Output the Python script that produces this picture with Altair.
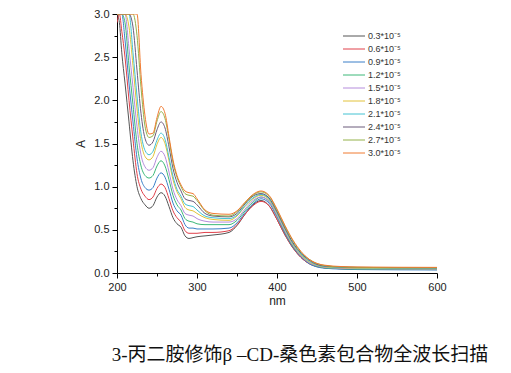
import altair as alt
import pandas as pd

wl = [200, 203, 206, 210, 215, 220, 225, 230, 235, 240, 245, 250, 255, 260, 265, 270, 275, 280, 285, 290,
      295, 300, 310, 320, 340, 350, 360, 370, 380, 390, 400, 410, 420, 430, 440, 450, 460, 480, 500, 600]

labels = ["0.3*10⁻⁵", "0.6*10⁻⁵", "0.9*10⁻⁵", "1.2*10⁻⁵", "1.5*10⁻⁵",
          "1.8*10⁻⁵", "2.1*10⁻⁵", "2.4*10⁻⁵", "2.7*10⁻⁵", "3.0*10⁻⁵"]
colors = ["#555555", "#e0404a", "#3a7fc8", "#3cb878", "#b58cdc",
          "#e2c23a", "#42c2d2", "#6a5a7a", "#94b24a", "#f07a30"]

s03 = [3.0, 2.9, 2.55, 2.2, 1.75, 1.3, 1.0, 0.86, 0.79, 0.75, 0.78, 0.88, 0.93, 0.89, 0.77, 0.64, 0.57, 0.53, 0.43, 0.40,
       0.41, 0.42, 0.43, 0.44, 0.47, 0.55, 0.68, 0.79, 0.84, 0.78, 0.62, 0.44, 0.29, 0.18, 0.11, 0.075, 0.06, 0.05, 0.045, 0.04]
s06 = [2.9, 3.0, 2.8, 2.5, 2.0, 1.55, 1.15, 0.97, 0.89, 0.85, 0.88, 0.98, 1.03, 0.99, 0.86, 0.72, 0.64, 0.59, 0.49, 0.46,
       0.46, 0.46, 0.47, 0.47, 0.49, 0.56, 0.68, 0.78, 0.83, 0.78, 0.62, 0.44, 0.29, 0.18, 0.11, 0.075, 0.06, 0.05, 0.045, 0.04]
s09 = [3.0, 3.0, 3.0, 2.7, 2.2, 1.75, 1.33, 1.09, 0.99, 0.96, 0.99, 1.10, 1.16, 1.11, 0.97, 0.81, 0.72, 0.67, 0.56, 0.52,
       0.52, 0.51, 0.51, 0.51, 0.52, 0.58, 0.70, 0.80, 0.86, 0.81, 0.65, 0.46, 0.30, 0.19, 0.11, 0.07, 0.055, 0.045, 0.04, 0.035]
s12 = [3.0, 3.0, 3.0, 2.9, 2.4, 1.95, 1.5, 1.24, 1.13, 1.10, 1.13, 1.24, 1.30, 1.24, 1.08, 0.90, 0.79, 0.73, 0.63, 0.60,
       0.59, 0.57, 0.56, 0.56, 0.56, 0.61, 0.72, 0.82, 0.88, 0.83, 0.66, 0.47, 0.31, 0.20, 0.12, 0.08, 0.06, 0.05, 0.045, 0.04]
s15 = [3.0, 3.0, 3.0, 3.0, 2.6, 2.15, 1.7, 1.37, 1.23, 1.19, 1.22, 1.34, 1.41, 1.35, 1.17, 0.97, 0.85, 0.78, 0.69, 0.67,
       0.66, 0.63, 0.60, 0.59, 0.59, 0.63, 0.74, 0.84, 0.88, 0.83, 0.67, 0.48, 0.32, 0.20, 0.12, 0.085, 0.065, 0.055, 0.05, 0.045]
s18 = [3.0, 3.0, 3.0, 3.0, 2.85, 2.4, 1.9, 1.52, 1.35, 1.31, 1.35, 1.49, 1.57, 1.50, 1.30, 1.08, 0.94, 0.86, 0.76, 0.73,
       0.72, 0.69, 0.64, 0.62, 0.61, 0.66, 0.77, 0.86, 0.90, 0.85, 0.69, 0.50, 0.33, 0.21, 0.13, 0.09, 0.07, 0.06, 0.055, 0.05]
s21 = [3.0, 3.0, 3.0, 3.0, 3.0, 2.55, 2.05, 1.62, 1.42, 1.37, 1.41, 1.54, 1.62, 1.55, 1.34, 1.12, 0.97, 0.89, 0.80, 0.78,
       0.77, 0.73, 0.66, 0.64, 0.63, 0.67, 0.78, 0.87, 0.91, 0.86, 0.70, 0.51, 0.34, 0.22, 0.14, 0.095, 0.075, 0.065, 0.06, 0.055]
s24 = [3.0, 3.0, 3.0, 3.0, 3.0, 2.85, 2.35, 1.85, 1.56, 1.48, 1.52, 1.66, 1.75, 1.68, 1.46, 1.21, 1.05, 0.95, 0.86, 0.84,
       0.83, 0.79, 0.69, 0.66, 0.65, 0.69, 0.80, 0.89, 0.92, 0.87, 0.71, 0.52, 0.35, 0.23, 0.15, 0.10, 0.08, 0.07, 0.065, 0.06]
s27 = [3.0, 3.0, 3.0, 3.0, 3.0, 3.0, 2.75, 2.15, 1.7, 1.57, 1.59, 1.76, 1.87, 1.79, 1.55, 1.28, 1.11, 1.00, 0.92, 0.90,
       0.89, 0.84, 0.72, 0.67, 0.66, 0.71, 0.81, 0.90, 0.94, 0.89, 0.73, 0.54, 0.37, 0.24, 0.16, 0.11, 0.085, 0.07, 0.065, 0.06]
s30 = [3.0, 3.0, 3.0, 3.0, 3.0, 3.0, 3.0, 2.3, 1.82, 1.61, 1.62, 1.80, 1.93, 1.85, 1.58, 1.31, 1.13, 1.02, 0.95, 0.93,
       0.92, 0.86, 0.73, 0.69, 0.68, 0.72, 0.82, 0.91, 0.95, 0.90, 0.74, 0.55, 0.38, 0.25, 0.16, 0.11, 0.09, 0.075, 0.07, 0.065]

series = [s03, s06, s09, s12, s15, s18, s21, s24, s27, s30]

rows = []
for lab, vals in zip(labels, series):
    for w, v in zip(wl, vals):
        rows.append({"nm": w, "A": v, "conc": lab})
df = pd.DataFrame(rows)

x_ticks = list(range(200, 601, 50))
y_ticks = [i * 0.25 for i in range(13)]

chart = alt.Chart(df).mark_line(strokeWidth=1, interpolate="monotone", clip=True).encode(
    x=alt.X("nm:Q", scale=alt.Scale(domain=[200, 600], nice=False, zero=False),
            axis=alt.Axis(values=x_ticks, title="nm", labelFlush=False,
                          labelExpr="datum.value % 100 == 0 ? datum.label : ''",
                          tickSize={"condition": {"test": "datum.value % 100 == 0", "value": 5}, "value": 3},
                          labelPadding=3, titlePadding=3)),
    y=alt.Y("A:Q", scale=alt.Scale(domain=[0, 3], nice=False),
            axis=alt.Axis(values=y_ticks, title="A", labelFlush=False,
                          labelExpr="datum.value % 0.5 == 0 ? format(datum.value, '.1f') : ''",
                          tickSize={"condition": {"test": "datum.value % 0.5 == 0", "value": 5}, "value": 3},
                          labelPadding=3, titlePadding=6)),
    color=alt.Color("conc:N", scale=alt.Scale(domain=labels, range=colors),
                    legend=alt.Legend(title=None, orient="none", legendX=231, legendY=16,
                                      symbolType="M-2,0H2", symbolSize=121, symbolStrokeWidth=1,
                                      labelOffset=8, rowPadding=2, padding=0,
                                      labelFont="Liberation Sans", labelFontSize=9,
                                      labelColor="#333333")),
).properties(
    width=320, height=259,
    autosize=alt.AutoSizeParams(type="none"),
    padding={"left": 109, "top": 6, "right": 66, "bottom": 92},
    title=alt.Title(text="3-丙二胺修饰β –CD-桑色素包合物全波长扫描", orient="bottom",
                    anchor="middle", dx=23, offset=40,
                    font="Liberation Serif, Noto Sans CJK SC", fontSize=19,
                    fontWeight="normal", color="#111111"),
).configure_axis(
    domainColor="#000000", tickColor="#000000", labelColor="#222222", titleColor="#222222",
    labelFont="Liberation Sans", titleFont="Liberation Sans", labelFontSize=11, titleFontSize=12,
    titleFontWeight="normal", grid=False,
).configure_view(stroke=None)

chart.save("out.html", embed_options={"renderer": "svg", "actions": False})
